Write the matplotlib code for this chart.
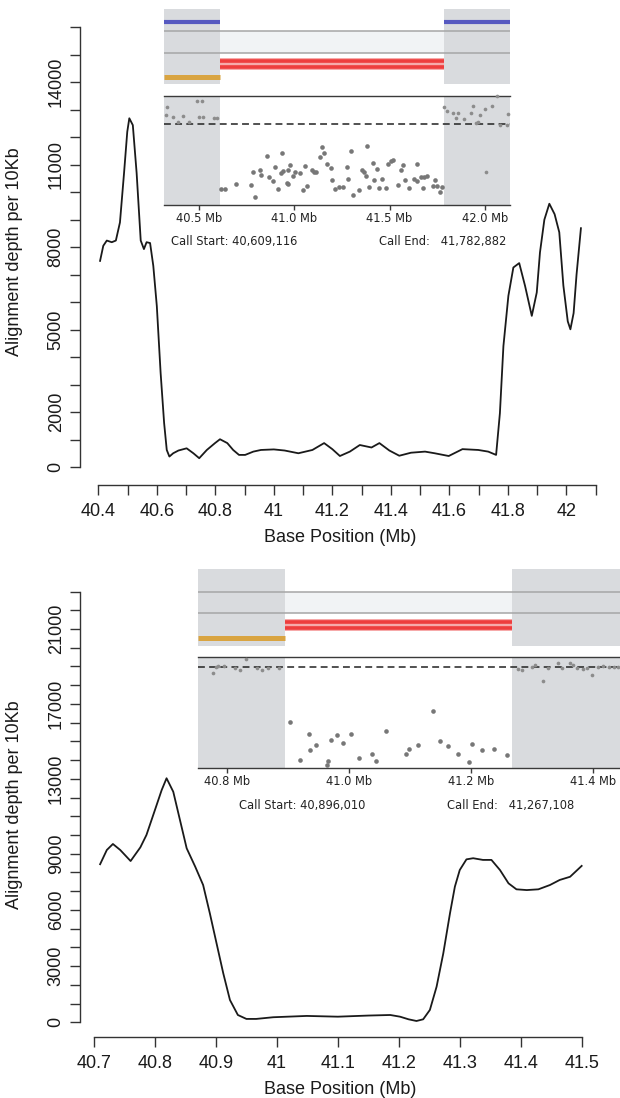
import numpy as np
import matplotlib
matplotlib.use("Agg")
import matplotlib.pyplot as plt

plt.rcParams['font.family'] = ['Liberation Sans', 'DejaVu Sans']

# ---- main coverage curves (position in Mb, depth per 10Kb) ----
top_pos = [40.406, 40.417, 40.429, 40.446, 40.460, 40.474, 40.488, 40.499, 40.506, 40.518,
           40.531, 40.545, 40.556, 40.565, 40.577, 40.588, 40.600, 40.613, 40.625, 40.634,
           40.643, 40.656, 40.674, 40.702, 40.725, 40.745, 40.771, 40.799, 40.816, 40.841,
           40.861, 40.881, 40.902, 40.930, 40.956, 41.000, 41.037, 41.084, 41.132, 41.172,
           41.200, 41.226, 41.260, 41.294, 41.334, 41.361, 41.395, 41.429, 41.469, 41.517,
           41.550, 41.598, 41.645, 41.699, 41.733, 41.760, 41.773, 41.785, 41.802, 41.819,
           41.839, 41.859, 41.882, 41.899, 41.910, 41.925, 41.942, 41.960, 41.976, 41.990,
           42.005, 42.014, 42.025, 42.035, 42.050]
top_depth = [7500, 8050, 8240, 8180, 8240, 8900, 10700, 12200, 12690, 12440,
             10700, 8240, 7930, 8180, 8150, 7320, 5860, 3430, 1600, 620,
             380, 500, 600, 680, 500, 320, 620, 870, 1010, 870,
             620, 440, 440, 560, 620, 640, 600, 500, 620, 870,
             650, 400, 560, 800, 710, 870, 600, 410, 520, 560,
             500, 400, 650, 620, 560, 440, 1960, 4400, 6230, 7260,
             7420, 6590, 5500, 6350, 7810, 9000, 9580, 9200, 8540, 6600,
             5300, 5010, 5600, 7000, 8690]

bot_pos = [40.710, 40.721, 40.731, 40.743, 40.760, 40.776, 40.786, 40.800, 40.811, 40.819,
           40.830, 40.841, 40.852, 40.866, 40.879, 40.890, 40.901, 40.912, 40.923, 40.936,
           40.950, 40.966, 40.994, 41.049, 41.100, 41.150, 41.186, 41.202, 41.216, 41.229,
           41.240, 41.251, 41.262, 41.273, 41.284, 41.292, 41.300, 41.311, 41.322, 41.338,
           41.352, 41.366, 41.380, 41.393, 41.410, 41.429, 41.448, 41.464, 41.481, 41.500]
bot_depth = [8440, 9200, 9520, 9200, 8610, 9340, 10000, 11340, 12400, 13030,
             12310, 10800, 9290, 8310, 7330, 5820, 4220, 2620, 1190, 390,
             180, 180, 270, 340, 300, 360, 390, 300, 160, 70,
             160, 660, 1900, 3680, 5820, 7240, 8130, 8700, 8760, 8670,
             8670, 8130, 7420, 7100, 7060, 7100, 7330, 7600, 7770, 8350]

top_xticklabels = ['40.4', '40.6', '40.8', '41', '41.2', '41.4', '41.6', '41.8', '42']
top_ylabeled = [0, 2000, 5000, 8000, 11000, 14000]
bot_xticklabels = ['40.7', '40.8', '40.9', '41', '41.1', '41.2', '41.3', '41.4', '41.5']
bot_ylabeled = [0, 3000, 6000, 9000, 13000, 17000, 21000]

# ---- inset: CNV calls and read depth ratio ----
call_start_1, call_end_1 = 40609116, 41782882
call_start_2, call_end_2 = 40896010, 41267108
inset_ticks_1 = [40.5, 41.0, 41.5, 42.0]
inset_ticks_2 = [40.8, 41.0, 41.2, 41.4]

ratio_pos_1 = [40.330, 40.327, 40.365, 40.392, 40.414, 40.449, 40.491, 40.514, 40.502, 40.523,
               40.579, 40.596,
               40.615, 40.638, 40.694, 40.771, 40.781, 40.796, 40.820, 40.827, 40.855, 40.866,
               40.887, 40.899, 40.916, 40.935, 40.928, 40.942, 40.960, 40.968, 40.965, 40.977,
               40.991, 41.004, 41.030, 41.044, 41.058, 41.065, 41.091, 41.103, 41.114, 41.135,
               41.147, 41.158, 41.173, 41.193, 41.198, 41.215, 41.235, 41.254, 41.275, 41.280,
               41.299, 41.310, 41.339, 41.357, 41.366, 41.374, 41.383, 41.394, 41.411, 41.420,
               41.432, 41.446, 41.460, 41.479, 41.490, 41.506, 41.520, 41.546, 41.558, 41.572,
               41.583, 41.600, 41.626, 41.642, 41.646, 41.663, 41.675, 41.682, 41.694, 41.726,
               41.740, 41.750, 41.763, 41.775,
               41.787, 41.803, 41.831, 41.857, 41.848, 41.892, 41.925, 41.936, 41.953, 41.974,
               42.000, 42.036, 42.065, 42.006, 42.079, 42.114, 42.119, 41.966]
ratio_1 = [1.211, 1.116, 1.087, 1.033, 1.103, 1.033, 1.293, 1.293, 1.087, 1.095,
           1.074, 1.074,
           0.194, 0.194, 0.260, 0.248, 0.401, 0.095, 0.426, 0.372, 0.607, 0.343,
           0.289, 0.463, 0.198, 0.640, 0.393, 0.421, 0.269, 0.256, 0.426, 0.496,
           0.351, 0.401, 0.393, 0.178, 0.483, 0.227, 0.426, 0.401, 0.401, 0.591,
           0.715, 0.640, 0.508, 0.450, 0.302, 0.194, 0.219, 0.215, 0.463, 0.322,
           0.669, 0.124, 0.186, 0.426, 0.401, 0.351, 0.731, 0.219, 0.517, 0.302,
           0.446, 0.207, 0.318, 0.207, 0.508, 0.537, 0.558, 0.248, 0.434, 0.496,
           0.302, 0.202, 0.318, 0.298, 0.508, 0.343, 0.202, 0.343, 0.360, 0.227,
           0.310, 0.227, 0.153, 0.219,
           1.211, 1.169, 1.136, 1.136, 1.074, 1.066, 1.136, 1.227, 1.021, 1.116,
           1.186, 1.227, 1.351, 0.401, 0.992, 0.992, 1.128, 1.033]

ratio_pos_2 = [40.777, 40.783, 40.786, 40.796, 40.814, 40.822, 40.832, 40.849, 40.857, 40.868,
               40.886,
               40.903, 40.920, 40.934, 40.937, 40.946, 40.964, 40.966, 40.970, 40.980, 40.991,
               41.003, 41.017, 41.037, 41.045, 41.060, 41.094, 41.099, 41.113, 41.137, 41.149,
               41.162, 41.178, 41.197, 41.202, 41.217, 41.238, 41.258,
               41.277, 41.283, 41.299, 41.305, 41.317, 41.325, 41.342, 41.348, 41.361, 41.366,
               41.373, 41.383, 41.389, 41.398, 41.407, 41.415, 41.425, 41.434, 41.441]
ratio_2 = [0.934, 1.000, 1.007, 1.007, 0.990, 0.967, 1.080, 0.990, 0.964, 0.984,
           0.984,
           0.456, 0.072, 0.334, 0.170, 0.220, 0.023, 0.062, 0.275, 0.318, 0.243,
           0.334, 0.095, 0.131, 0.066, 0.361, 0.138, 0.187, 0.226, 0.564, 0.262,
           0.210, 0.138, 0.056, 0.236, 0.170, 0.180, 0.121,
           0.974, 0.967, 0.997, 1.013, 0.859, 0.990, 1.039, 0.990, 1.039, 1.016,
           0.984, 0.974, 0.984, 0.918, 0.997, 1.007, 0.997, 0.997, 0.997]

W, H = 620, 1098
fig = plt.figure(figsize=(W / 100, H / 100), dpi=100)
AXC = '#333333'
GRAY = '#d9dbde'
inset_font = ['Liberation Sans Narrow', 'DejaVu Sans Condensed', 'DejaVu Sans']


def px_axes(left, top, right, bottom):
    return fig.add_axes([left / W, 1 - bottom / H, (right - left) / W, (bottom - top) / H])


def px_text(x, y, s, **kw):
    fig.text(x / W, 1 - y / H, s, **kw)


def main_panel(ax, pos, depth, xlim, ylim, xticks, xlabels, ytop, ylabeled):
    ax.plot(pos, depth, color='#1a1a1a', lw=1.3)
    ax.set_xlim(*xlim)
    ax.set_ylim(*ylim)
    for s in ['top', 'right']:
        ax.spines[s].set_visible(False)
    ax.spines['left'].set_bounds(0, ytop)
    ax.spines['bottom'].set_bounds(xticks[0], xticks[-1])
    for s in ['left', 'bottom']:
        ax.spines[s].set_color(AXC)
        ax.spines[s].set_linewidth(1.0)
    ax.set_xticks(xticks)
    lab = []
    i = 0
    for t in xticks:
        if i < len(xlabels) and abs(float(xlabels[i]) - t) < 1e-6:
            lab.append(xlabels[i])
            i += 1
        else:
            lab.append('')
    ax.set_xticklabels(lab)
    yt = np.arange(0, ytop + 1, 1000)
    ax.set_yticks(yt)
    ax.set_yticklabels([str(v) if v in ylabeled else '' for v in yt],
                       rotation=90, va='center')
    ax.tick_params(axis='both', length=7, width=1.0, color=AXC, labelsize=13,
                   labelcolor='#1a1a1a')
    ax.tick_params(axis='x', pad=6)
    ax.tick_params(axis='y', pad=4)
    ax.set_facecolor('none')


def inset(track_box, scat_box, xlim, start, end, rows, blue, ratio_top,
          pos, ratio, ticks, text_y, start_x, end_x):
    s_mb, e_mb = start / 1e6, end / 1e6
    # tracks
    ta = px_axes(*track_box)
    ta.set_xlim(*xlim)
    ta.set_ylim(track_box[3], track_box[1])
    ta.axis('off')
    ta.axhspan(rows['line1'], rows['line2'], color='#f1f3f5', lw=0, zorder=0)
    ta.axvspan(xlim[0], s_mb, color=GRAY, lw=0, zorder=1)
    ta.axvspan(e_mb, xlim[1], color=GRAY, lw=0, zorder=1)
    for key in ['line1', 'line2']:
        ta.axhline(rows[key], color='#a6a6a6', lw=1.1, zorder=2)
    if blue is not None:
        ta.hlines([blue, blue], [xlim[0], e_mb], [s_mb, xlim[1]], color='#5659c0', lw=3.0, zorder=3)
    for r in rows['red']:
        ta.hlines(r, s_mb, e_mb, color='#f6a3a3', lw=4.2, zorder=3)
        ta.hlines(r, s_mb, e_mb, color='#ee3d3d', lw=2.6, zorder=4)
    ta.hlines(rows['orange'], xlim[0], s_mb, color='#d9a441', lw=3.6, zorder=3)

    # read depth ratio
    sa = px_axes(*scat_box)
    sa.set_xlim(*xlim)
    sa.set_ylim(0, ratio_top)
    sa.set_facecolor('white')
    sa.axvspan(xlim[0], s_mb, color=GRAY, lw=0, zorder=0)
    sa.axvspan(e_mb, xlim[1], color=GRAY, lw=0, zorder=0)
    sa.axhline(1.0, color='#222222', lw=1.1, ls=(0, (4.5, 2.8)), zorder=2)
    pos = np.array(pos)
    ratio = np.array(ratio)
    inside = (pos >= s_mb) & (pos <= e_mb)
    sa.scatter(pos[inside], ratio[inside], s=11, color='#777777', lw=0, zorder=3)
    sa.scatter(pos[~inside], ratio[~inside], s=7, color='#8c8c8c', lw=0, zorder=3, clip_on=False)
    for s in ['left', 'right']:
        sa.spines[s].set_visible(False)
    for s in ['top', 'bottom']:
        sa.spines[s].set_color('#3a3a3a')
        sa.spines[s].set_linewidth(1.0)
    sa.set_yticks([])
    sa.set_xticks(ticks)
    sa.set_xticklabels(['%.1f Mb' % t for t in ticks], family=inset_font)
    sa.tick_params(axis='x', length=3.5, width=1.0, color='#3a3a3a', labelsize=8.3,
                   labelcolor='#222222', pad=2)

    px_text(start_x, text_y, 'Call Start: {:,}'.format(start), fontsize=8.3,
            family=inset_font, color='#222222', va='center', ha='left')
    px_text(end_x, text_y, 'Call End:   {:,}'.format(end), fontsize=8.3,
            family=inset_font, color='#222222', va='center', ha='left')


# top panel
ax1 = px_axes(80, 20, 610, 485)
main_panel(ax1, top_pos, top_depth, (40.3374, 42.1494), (-655, 16266),
           np.round(np.arange(40.4, 42.101, 0.1), 1), top_xticklabels, 16000, top_ylabeled)
px_text(15, 252, 'Alignment depth per 10Kb', rotation=90, fontsize=13,
        ha='center', va='center', color='#1a1a1a')
px_text(340, 537, 'Base Position (Mb)', fontsize=13, ha='center', va='center', color='#1a1a1a')

# bottom panel
ax2 = px_axes(80, 580, 610, 1036.7)
main_panel(ax2, bot_pos, bot_depth, (40.677, 41.5465), (-769, 23615),
           np.round(np.arange(40.7, 41.501, 0.1), 1), bot_xticklabels, 23000, bot_ylabeled)
px_text(15, 805, 'Alignment depth per 10Kb', rotation=90, fontsize=13,
        ha='center', va='center', color='#1a1a1a')
px_text(340, 1089, 'Base Position (Mb)', fontsize=13, ha='center', va='center', color='#1a1a1a')

# insets
inset((164, 9.3, 510, 84), (164, 96, 510, 204.5), (40.3164, 42.1317),
      call_start_1, call_end_1,
      {'line1': 31, 'line2': 52.7, 'red': [61, 67.3], 'orange': 76.7}, 22.3, 1.351,
      ratio_pos_1, ratio_1, inset_ticks_1, 241.7, 171, 379)
inset((198.3, 569, 620, 646), (198.3, 657.3, 620, 767.5), (40.7535, 41.4436),
      call_start_2, call_end_2,
      {'line1': 591.7, 'line2': 613.3, 'red': [621.7, 628.3], 'orange': 637.7}, None, 1.093,
      ratio_pos_2, ratio_2, inset_ticks_2, 805, 239.3, 446.7)

fig.savefig('out.png', dpi=100)
